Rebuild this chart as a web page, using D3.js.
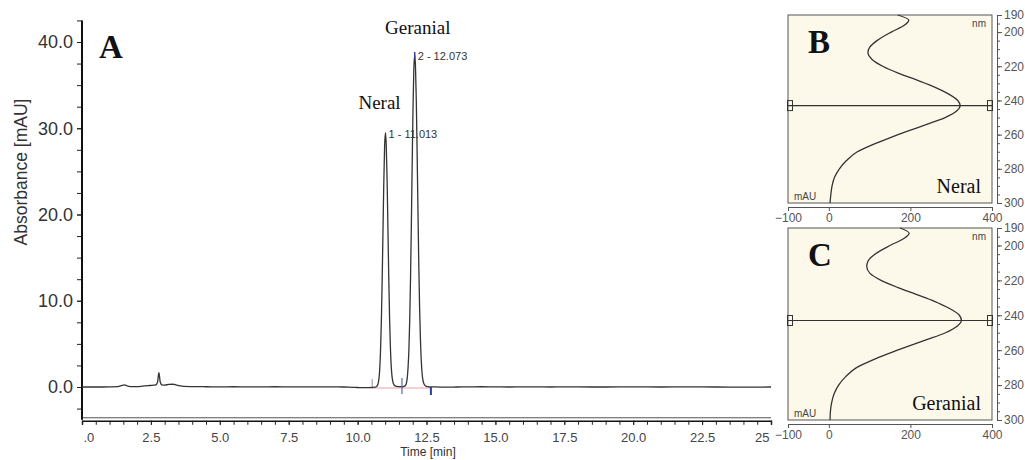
<!DOCTYPE html>
<html>
<head>
<meta charset="utf-8">
<script src="https://cdn.jsdelivr.net/npm/d3@7"></script>
<style>
  body { margin: 0; background: #fff; }
  svg { display: block; }
  .tick text { font-family: "Liberation Sans", Arial, sans-serif; }
</style>
</head>
<body>
<div id="chart"></div>
<script>
// chromatogram (time in min, absorbance in mAU)
var chromTime = [0, 0.5, 1.0, 1.3, 1.45, 1.55, 1.62, 1.7, 1.85, 2.0, 2.2, 2.4, 2.55, 2.68, 2.74, 2.79, 2.84, 2.9, 3.0, 3.15, 3.3, 3.4, 3.5, 3.7, 4.0, 4.5, 5.0, 5.5, 6.0, 6.5, 7.0, 7.5, 8.0, 8.5, 9.0, 9.5, 9.8, 10.0, 10.3, 10.5, 10.62,
  10.66, 10.71, 10.74, 10.77, 10.80, 10.83, 10.86, 10.89, 10.92, 10.95, 10.98, 11.013,
  11.04, 11.07, 11.10, 11.13, 11.16, 11.19, 11.22, 11.25, 11.28, 11.32, 11.38, 11.46, 11.54, 11.61,
  11.69, 11.73, 11.77, 11.80, 11.83, 11.86, 11.89, 11.92, 11.95, 11.98, 12.01, 12.04, 12.073,
  12.10, 12.13, 12.16, 12.19, 12.22, 12.25, 12.28, 12.31, 12.34, 12.37, 12.41, 12.47, 12.55,
  12.65, 12.8, 13.2, 13.6, 14.0, 14.5, 15.0, 15.5, 16.0, 16.5, 17.0, 17.5, 18.0, 19.0, 20.0, 21.0, 22.0, 23.0, 24.0, 25.0];
var chromAbs = [0.00, 0.00, 0.02, 0.05, 0.18, 0.24, 0.15, 0.08, 0.05, 0.04, 0.10, 0.16, 0.20, 0.26, 0.55, 1.65, 0.55, 0.25, 0.22, 0.30, 0.32, 0.26, 0.15, 0.08, 0.05, 0.03, 0.02, 0.03, 0.02, 0.02, 0.03, 0.02, 0.01, 0.02, 0.01, 0.00, -0.04, -0.06, -0.08, -0.06, -0.02,
  0.00, 0.12, 0.35, 0.85, 1.9, 4.0, 7.4, 12.1, 17.9, 23.6, 27.9, 29.5,
  28.0, 24.0, 18.5, 12.8, 8.0, 4.6, 2.4, 1.2, 0.6, 0.25, 0.10, 0.05, 0.04, 0.03,
  0.06, 0.15, 0.43, 1.0, 2.2, 4.2, 7.6, 12.5, 18.7, 25.7, 32.2, 36.8, 38.5,
  37.2, 33.2, 27.2, 20.5, 14.2, 9.2, 5.5, 3.1, 1.6, 0.8, 0.35, 0.12, 0.04,
  0.00, 0.01, -0.02, 0.00, 0.02, 0.03, 0.01, 0.00, 0.02, 0.01, 0.00, 0.02, 0.01, 0.00, 0.01, 0.00, 0.01, 0.00, -0.01, 0.00];

// peaks
var peakNames = ["Neral", "Geranial"];
var peakTimes = [11.013, 12.073];
var peakHeights = [29.5, 38.5];
var peakLabels = ["1 - 11.013", "2 - 12.073"];
// integration baseline events (min)
var integStart = 10.53, integSplit = 11.61, integEnd = 12.66;

// axis ticks
var yMajor = [0, 10, 20, 30, 40];
var xMajor = [0, 2.5, 5, 7.5, 10, 12.5, 15, 17.5, 20, 22.5, 25];
var xTickLabels = [".0", "2.5", "5.0", "7.5", "10.0", "12.5", "15.0", "17.5", "20.0", "22.5", "25"];

// UV spectra (nm vs mAU)
var waveNm = [190, 193, 196, 200, 205, 209, 212, 216, 220, 224, 228, 232, 236, 240, 243, 246, 250, 254, 258, 262, 266, 270, 275, 280, 285, 290, 295, 300];
var neralSpec = [169, 196, 185, 153, 118, 100, 96, 106, 132, 170, 215, 258, 292, 316, 322, 314, 285, 240, 193, 148, 106, 70, 44, 26, 14, 8, 5, 3];
var geranialSpec = [175, 197, 184, 150, 113, 96, 93, 101, 128, 168, 214, 259, 295, 320, 325, 316, 286, 240, 192, 146, 104, 68, 42, 24, 13, 7, 4, 3];
var specLine = 243;
var nmTicks = [190, 200, 220, 240, 260, 280, 300];
var mauTicks = [-100, 0, 200, 400];

var sans = '"Liberation Sans", Arial, sans-serif';
var serif = '"Liberation Serif", "Times New Roman", serif';

var svg = d3.select("#chart").append("svg")
  .attr("width", 1025)
  .attr("height", 460);

svg.append("rect").attr("width", 1025).attr("height", 460).attr("fill", "#fff");

// ---------- main chromatogram ----------
var x = d3.scaleLinear().domain([0, 25]).range([82, 771]);
var y = d3.scaleLinear().domain([0, 40]).range([387, 42]);
var yLow = -3.8, yHigh = 42.5;

var chromData = chromTime.map(function(t, i) { return { t: t, v: chromAbs[i] }; });

// plot bottom border
svg.append("line")
  .attr("x1", x(0)).attr("x2", x(25))
  .attr("y1", y(yLow) - 2).attr("y2", y(yLow) - 2)
  .attr("stroke", "#555").attr("stroke-width", 1);

// y axis
var yMinor = d3.range(-2.5, 42.6, 2.5);
svg.append("g")
  .attr("transform", "translate(82,0)")
  .call(d3.axisLeft(y).tickValues(yMinor).tickSize(5).tickFormat(""))
  .call(function(g) { g.select(".domain").remove(); })
  .selectAll("line").attr("stroke", "#222");

svg.append("g")
  .attr("transform", "translate(82,0)")
  .call(d3.axisLeft(y).tickValues(yMajor).tickSize(5).tickPadding(4).tickFormat(d3.format(".1f")))
  .call(function(g) { g.select(".domain").remove(); })
  .call(function(g) {
    g.selectAll("line").attr("stroke", "#222");
    g.selectAll("text").attr("font-size", 18).attr("fill", "#333");
  });

svg.append("line")
  .attr("x1", 82).attr("x2", 82)
  .attr("y1", y(yHigh)).attr("y2", y(yLow))
  .attr("stroke", "#111").attr("stroke-width", 2);

// x axis
var xAxisY = y(yLow) + 1;
svg.append("g")
  .attr("transform", "translate(0," + xAxisY + ")")
  .call(d3.axisBottom(x).tickValues(d3.range(0, 25.01, 0.5)).tickSize(4).tickFormat(""))
  .call(function(g) {
    g.select(".domain").attr("stroke", "#111").attr("stroke-width", 1.5);
    g.selectAll("line").attr("stroke", "#222");
  });

var xAx = svg.append("g")
  .attr("transform", "translate(0," + xAxisY + ")")
  .call(d3.axisBottom(x).tickValues(xMajor).tickSize(4).tickPadding(8)
    .tickFormat(function(d, i) { return xTickLabels[i]; }));
xAx.select(".domain").remove();
xAx.selectAll("line").attr("stroke", "#222");
xAx.selectAll("text").attr("font-size", 13).attr("fill", "#444")
  .attr("text-anchor", function(d, i) { return i === 0 ? "start" : (i === xMajor.length - 1 ? "end" : "middle"); })
  .attr("dx", function(d, i) { return i === 0 ? 1 : (i === xMajor.length - 1 ? -2 : 0); });

// integration baseline
svg.append("line")
  .attr("x1", x(integStart)).attr("x2", x(integEnd))
  .attr("y1", y(0) + 1).attr("y2", y(0) + 1)
  .attr("stroke", "#e8a0a8").attr("stroke-width", 1);

// chromatogram trace
var line = d3.line()
  .x(function(d) { return x(d.t); })
  .y(function(d) { return y(d.v); })
  .curve(d3.curveMonotoneX);

svg.append("path")
  .datum(chromData)
  .attr("d", line)
  .attr("fill", "none")
  .attr("stroke", "#333")
  .attr("stroke-width", 1.3);

// integration marks
svg.append("line")
  .attr("x1", x(integStart)).attr("x2", x(integStart))
  .attr("y1", y(0) - 8).attr("y2", y(0))
  .attr("stroke", "#a898c8").attr("stroke-width", 1.2);
svg.append("line")
  .attr("x1", x(integSplit)).attr("x2", x(integSplit))
  .attr("y1", y(0) - 9).attr("y2", y(0) + 7)
  .attr("stroke", "#5866b0").attr("stroke-width", 1.2);
svg.append("line")
  .attr("x1", x(integEnd)).attr("x2", x(integEnd))
  .attr("y1", y(0)).attr("y2", y(0) + 8)
  .attr("stroke", "#2f3da0").attr("stroke-width", 2);

// apex marks & peak labels
svg.append("line")
  .attr("x1", x(peakTimes[1])).attr("x2", x(peakTimes[1]))
  .attr("y1", y(peakHeights[1]) - 3).attr("y2", y(peakHeights[1]) + 3)
  .attr("stroke", "#3040a8").attr("stroke-width", 1.5);

var nameOffsets = [[-6, -24], [3, -21]];
peakTimes.forEach(function(t, i) {
  svg.append("text")
    .attr("x", x(t) + 3)
    .attr("y", y(peakHeights[i]) + 5)
    .attr("font-family", sans)
    .attr("font-size", 11)
    .attr("fill", "#333")
    .text(peakLabels[i]);
  svg.append("text")
    .attr("x", x(t) + nameOffsets[i][0])
    .attr("y", y(peakHeights[i]) + nameOffsets[i][1])
    .attr("text-anchor", "middle")
    .attr("font-family", serif)
    .attr("font-size", 19)
    .attr("fill", "#111")
    .text(peakNames[i]);
});

// axis titles
svg.append("text")
  .attr("transform", "translate(27,172) rotate(-90)")
  .attr("text-anchor", "middle")
  .attr("font-family", sans)
  .attr("font-size", 17.5)
  .attr("fill", "#333")
  .text("Absorbance [mAU]");

svg.append("text")
  .attr("x", 428).attr("y", 456)
  .attr("text-anchor", "middle")
  .attr("font-family", sans)
  .attr("font-size", 12)
  .attr("fill", "#333")
  .text("Time [min]");

svg.append("text")
  .attr("x", 99).attr("y", 58)
  .attr("font-family", serif)
  .attr("font-weight", "bold")
  .attr("font-size", 33)
  .attr("fill", "#111")
  .text("A");

// ---------- spectrum panels ----------
function drawSpectrum(top, bottom, values, letter, name) {
  var sx = d3.scaleLinear().domain([-100, 400]).range([788, 992]);
  var sy = d3.scaleLinear().domain([190, 300]).range([top, bottom]);
  var g = svg.append("g");

  g.append("rect")
    .attr("x", sx(-100)).attr("y", sy(190))
    .attr("width", sx(400) - sx(-100)).attr("height", sy(300) - sy(190))
    .attr("fill", "#fdf9ea")
    .attr("stroke", "#555").attr("stroke-width", 1);

  // right nm axis
  var ra = g.append("g")
    .attr("transform", "translate(997,0)")
    .call(d3.axisRight(sy).tickValues(d3.range(190, 301, 5)).tickSize(3).tickFormat(""));
  ra.select(".domain").attr("stroke", "#555");
  ra.selectAll("line").attr("stroke", "#555");

  var rl = g.append("g")
    .attr("transform", "translate(997,0)")
    .call(d3.axisRight(sy).tickValues(nmTicks).tickSize(5).tickPadding(2));
  rl.select(".domain").remove();
  rl.selectAll("line").attr("stroke", "#555");
  rl.selectAll("text").attr("font-size", 12).attr("fill", "#555");

  // bottom mAU axis
  var ba = g.append("g")
    .attr("transform", "translate(0," + (bottom + 4) + ")")
    .call(d3.axisBottom(sx).tickValues(mauTicks).tickSize(4).tickPadding(2));
  ba.select(".domain").attr("stroke", "#555");
  ba.selectAll("line").attr("stroke", "#555");
  ba.selectAll("text").attr("font-size", 12).attr("fill", "#555");

  // wavelength cursor
  g.append("line")
    .attr("x1", sx(-100)).attr("x2", sx(400))
    .attr("y1", sy(specLine)).attr("y2", sy(specLine))
    .attr("stroke", "#333").attr("stroke-width", 1.2);
  [sx(-100) + 2, sx(400) - 2].forEach(function(cx) {
    g.append("rect")
      .attr("x", cx - 2.5).attr("y", sy(specLine) - 5)
      .attr("width", 5).attr("height", 10)
      .attr("fill", "none").attr("stroke", "#333").attr("stroke-width", 1);
  });

  var specData = waveNm.map(function(w, i) { return { w: w, v: values[i] }; });
  g.append("path")
    .datum(specData)
    .attr("d", d3.line()
      .x(function(d) { return sx(d.v); })
      .y(function(d) { return sy(d.w); })
      .curve(d3.curveMonotoneY))
    .attr("fill", "none")
    .attr("stroke", "#333")
    .attr("stroke-width", 1.3);

  g.append("text")
    .attr("x", sx(400) - 6).attr("y", top + 12)
    .attr("text-anchor", "end")
    .attr("font-family", sans).attr("font-size", 10).attr("fill", "#444")
    .text("nm");
  g.append("text")
    .attr("x", sx(-100) + 6).attr("y", bottom - 3)
    .attr("font-family", sans).attr("font-size", 10).attr("fill", "#444")
    .text("mAU");
  g.append("text")
    .attr("x", 808).attr("y", top + 38)
    .attr("font-family", serif).attr("font-weight", "bold")
    .attr("font-size", 33).attr("fill", "#111")
    .text(letter);
  g.append("text")
    .attr("x", 981).attr("y", bottom - 10)
    .attr("text-anchor", "end")
    .attr("font-family", serif).attr("font-size", 20).attr("fill", "#111")
    .text(name);
}

drawSpectrum(15, 203, neralSpec, "B", "Neral");
drawSpectrum(228, 420, geranialSpec, "C", "Geranial");
</script>
</body>
</html>
